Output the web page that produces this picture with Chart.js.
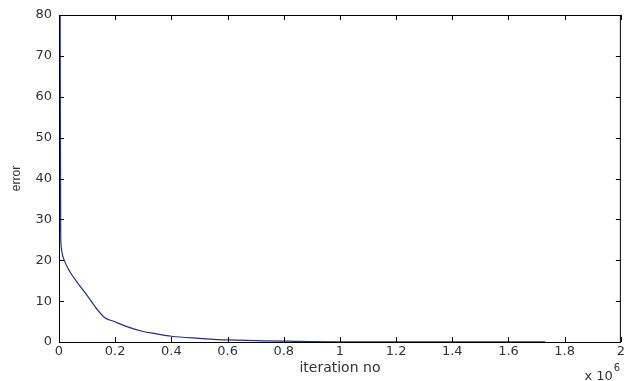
<!DOCTYPE html>
<html>
<head>
<meta charset="utf-8">
<script src="https://cdn.jsdelivr.net/npm/chart.js@4"></script>
<style>
    html, body { margin: 0; padding: 0; background: #fff; }
    #wrap { width: 627px; height: 381px; position: relative; }
</style>
</head>
<body>
<div id="wrap"><canvas id="errChart"></canvas></div>
<script>
// iteration no (x 10^6) and error values
const iterations = [0.004, 0.006, 0.007, 0.009, 0.021, 0.039, 0.068, 0.103, 0.138, 0.162, 0.197, 0.244, 0.303, 0.338, 0.4, 0.5, 0.6, 0.7, 0.8, 0.9, 1.0, 1.2, 1.4, 1.6, 1.73];
const errors = [80, 27, 24, 22.5, 19.6, 17.2, 14.3, 11.1, 7.8, 6.0, 5.0, 3.7, 2.5, 2.1, 1.4, 0.9, 0.5, 0.35, 0.2, 0.1, 0.06, 0.03, 0.02, 0.01, 0.01];
const xTicks = [0, 0.2, 0.4, 0.6, 0.8, 1, 1.2, 1.4, 1.6, 1.8, 2];
const yTicks = [0, 10, 20, 30, 40, 50, 60, 70, 80];

const points = iterations.map((x, i) => ({ x: x, y: errors[i] }));
const labelFont = "'DejaVu Sans', Verdana, sans-serif";

// matlab style: box around plot, ticks pointing inward on all sides
const boxTicks = {
    id: "boxTicks",
    afterDraw(chart) {
        const ctx = chart.ctx;
        const a = chart.chartArea;
        const xs = chart.scales.x, ys = chart.scales.y;
        const len = 5;
        ctx.save();
        ctx.strokeStyle = "#000";
        ctx.lineWidth = 1;
        ctx.strokeRect(a.left + 0.5, a.top + 0.5, a.right - a.left - 1, a.bottom - a.top);
        ctx.beginPath();
        xTicks.forEach(v => {
            let px = Math.round(xs.getPixelForValue(v)) + 0.5;
            ctx.moveTo(px, a.bottom); ctx.lineTo(px, a.bottom - len);
            ctx.moveTo(px, a.top); ctx.lineTo(px, a.top + len);
        });
        yTicks.forEach(v => {
            let py = Math.round(ys.getPixelForValue(v)) + 0.5;
            ctx.moveTo(a.left, py); ctx.lineTo(a.left + len, py);
            ctx.moveTo(a.right, py); ctx.lineTo(a.right - len, py);
        });
        ctx.stroke();

        // exponent note under the axis
        ctx.fillStyle = "#333";
        ctx.font = "13px " + labelFont;
        ctx.textBaseline = "alphabetic";
        ctx.textAlign = "right";
        ctx.fillText("x 10", a.right - 8, chart.height - 1);
        ctx.textAlign = "left";
        ctx.font = "10px " + labelFont;
        ctx.fillText("6", a.right - 7, chart.height - 10);
        ctx.restore();
    }
};

new Chart(document.getElementById("errChart"), {
    type: "line",
    data: {
        datasets: [{
            data: points,
            borderColor: "#2b2b85",
            borderWidth: 1.2,
            pointRadius: 0,
            cubicInterpolationMode: "monotone",
            fill: false
        }]
    },
    options: {
        responsive: true,
        maintainAspectRatio: false,
        animation: false,
        layout: { padding: { top: 15, right: 1, left: 0, bottom: 0 } },
        plugins: { legend: { display: false }, tooltip: { enabled: false } },
        scales: {
            x: {
                type: "linear",
                min: 0,
                max: 2,
                afterBuildTicks: s => { s.ticks = xTicks.map(v => ({ value: v })); },
                afterFit: s => { s.height = 39; },
                grid: { display: false, drawTicks: false },
                border: { display: false },
                ticks: {
                    padding: 2,
                    maxRotation: 0,
                    autoSkip: false,
                    color: "#333",
                    font: { family: labelFont, size: 13 },
                    callback: v => String(parseFloat(v.toFixed(1)))
                },
                title: {
                    display: true,
                    text: "iteration no",
                    color: "#333",
                    padding: { top: 0, bottom: 4 },
                    font: { family: labelFont, size: 14 }
                }
            },
            y: {
                min: 0,
                max: 80,
                afterBuildTicks: s => { s.ticks = yTicks.map(v => ({ value: v })); },
                afterFit: s => { s.width = 59; },
                grid: { display: false, drawTicks: false },
                border: { display: false },
                ticks: {
                    padding: 7,
                    autoSkip: false,
                    color: "#333",
                    font: { family: labelFont, size: 13 }
                },
                title: {
                    display: true,
                    text: "error",
                    color: "#333",
                    padding: { top: 9, bottom: 0 },
                    font: { family: "'Liberation Sans Narrow', 'Liberation Sans', Arial, sans-serif", size: 12 }
                }
            }
        }
    },
    plugins: [boxTicks]
});
</script>
</body>
</html>
